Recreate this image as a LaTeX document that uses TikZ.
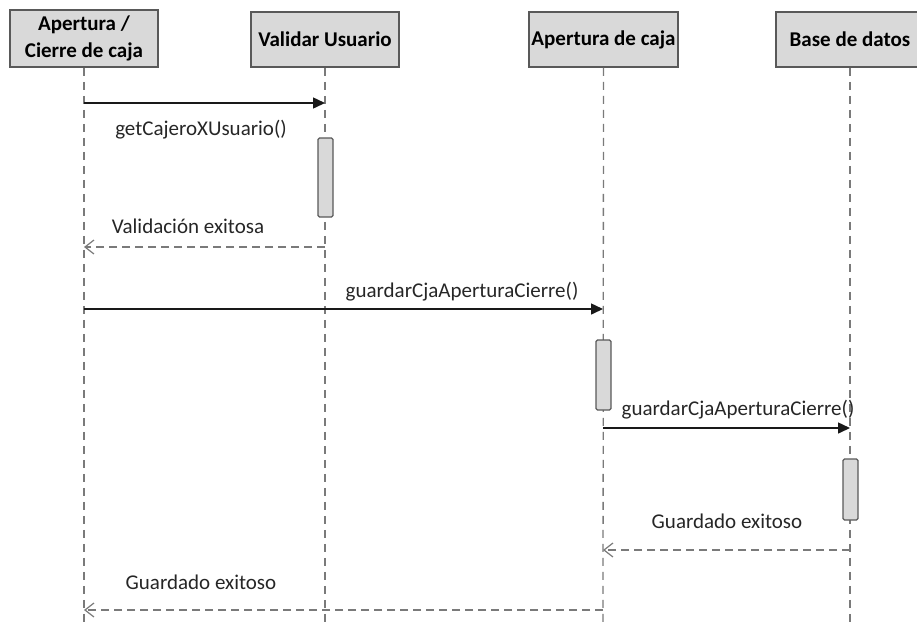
\documentclass[tikz,border=0pt]{standalone}
\usepackage{fontspec}
\setmainfont{Carlito}
\usetikzlibrary{arrows.meta}
\definecolor{boxfill}{HTML}{D9D9D9}
\definecolor{boxline}{HTML}{595959}
\definecolor{lifegray}{HTML}{7A7A7A}
\definecolor{txt}{HTML}{262626}
\begin{document}
\begin{tikzpicture}[x=1pt,y=-1pt,
  actor/.style={draw=boxline, line width=1.5pt, fill=boxfill, minimum width=148pt, inner sep=0pt, font=\fontsize{21}{27}\selectfont\bfseries, align=center, text=black},
  lifeline/.style={draw=lifegray, line width=1.3pt, dash pattern=on 8pt off 6pt},
  actbox/.style={draw=boxline, line width=1.2pt, fill=boxfill, rounded corners=1.5pt, minimum width=15pt, inner sep=0pt},
  call/.style={draw=black!90, line width=1.5pt, -{Triangle[length=12pt,width=11pt]}},
  ret/.style={draw=lifegray, line width=1.6pt, dash pattern=on 8pt off 5pt, -{Straight Barb[length=9pt,width=14pt,line width=1.2pt]}},
  lbl/.style={font=\fontsize{21}{25}\selectfont, text=txt, inner sep=0pt}
]
\clip (0,0) rectangle (917,625);
% headers
\node[actor, minimum height=57pt] (A) at (84,38.5) {Apertura /\\Cierre de caja};
\node[actor, minimum height=55pt] (V) at (325,39.5) {Validar Usuario};
\node[actor, minimum height=55pt, minimum width=149pt] (C) at (603.5,39.5) {Apertura de caja};
\node[actor, minimum height=55pt] (B) at (850,39.5) {Base de datos};
% lifeline ends
\coordinate (Aend) at (84,625);
\coordinate (Vend) at (325,625);
\coordinate (Cend) at (603,625);
\coordinate (Bend) at (850,625);
\draw[lifeline] (A.south) -- (Aend);
\draw[lifeline] (V.south) -- (Vend);
\draw[lifeline] (C.south) -- (Cend);
\draw[lifeline] (B.south) -- (Bend);
% activations
\node[actbox, minimum height=79pt] (VA) at (325.5,177.5) {};
\node[actbox, minimum height=70pt] (CA) at (603.5,375) {};
\node[actbox, minimum height=61pt] (BA) at (850.5,489.5) {};
% message points
\coordinate (A1) at (84,103);  \coordinate (V1) at (325,103);
\coordinate (V2) at (325,247); \coordinate (A2) at (84,247);
\coordinate (A3) at (84,309);  \coordinate (C3) at (603,309);
\coordinate (C4) at (603,428); \coordinate (B4) at (850,428);
\coordinate (B5) at (850,550); \coordinate (C5) at (603,550);
\coordinate (C6) at (603,610); \coordinate (A6) at (84,610);
% messages
\draw[call] (A1) -- (V1);
\draw[ret] (V2) -- (A2);
\draw[call] (A3) -- (C3);
\draw[call] (C4) -- (B4);
\draw[ret] (B5) -- (C5);
\draw[ret] (C6) -- (A6);
% labels
\node[lbl] (L1) at (201,130) {getCajeroXUsuario()};
\node[lbl] (L2) at (188,226) {Validación exitosa};
\node[lbl] (L3) at (462,292) {guardarCjaAperturaCierre()};
\node[lbl] (L4) at (738,410) {guardarCjaAperturaCierre()};
\node[lbl] (L5) at (727,521) {Guardado exitoso};
\node[lbl] (L6) at (201,582) {Guardado exitoso};
\end{tikzpicture}
\end{document}
